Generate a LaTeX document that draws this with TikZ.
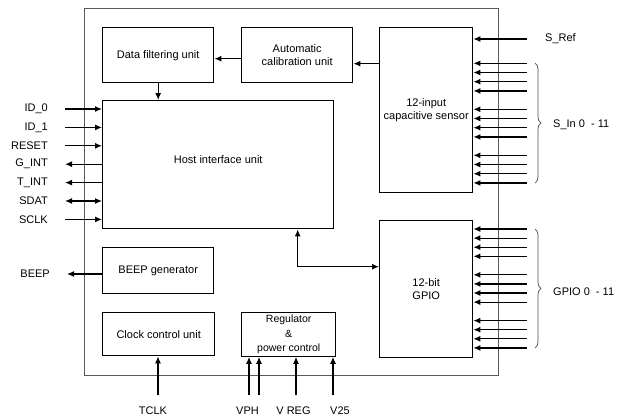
\documentclass[tikz,border=0pt]{standalone}
\usepackage{fontspec}
\setmainfont{Liberation Sans}
\usetikzlibrary{arrows.meta,decorations.pathreplacing}

\tikzset{
  block/.style={draw, line width=1.4pt, inner sep=0pt, align=center, anchor=north west},
  pinlbl/.style={inner sep=0pt},
  wire/.style={line width=1.2pt},
  curly/.style={decorate, decoration={brace, amplitude=6pt}, gray!60!black, line width=0.7pt}
}

\begin{document}
\begin{tikzpicture}[x=1pt, y=-1pt, >={Latex[length=7pt,width=6pt]},
  font=\fontsize{11}{12.5}\selectfont]

  \useasboundingbox (0,0) rectangle (629,416);

  % ------------------------------------------------------------
  % Positions
  % ------------------------------------------------------------

  \def\xlbl{48}
  \def\xpin{65}
  \def\xin{527}
  \def\xbrace{535}
  \def\ybot{395}
  \def\ylbl{414}

  % ------------------------------------------------------------
  % Chip outline
  % ------------------------------------------------------------

  \node[draw=gray!70!black, line width=0.8pt, inner sep=0pt, anchor=north west,
    minimum width=414pt, minimum height=367pt] (chip) at (84,8) {};

  % ------------------------------------------------------------
  % Blocks
  % ------------------------------------------------------------

  \node[block, minimum width=111pt, minimum height=55pt] (dfu) at (102,27)
  {Data filtering unit};

  \node[block, minimum width=111pt, minimum height=55pt] (acu) at (241,27)
  {Automatic\\calibration unit};

  \node[block, minimum width=93pt, minimum height=165pt] (cap) at (379,27)
  {12-input\\capacitive sensor};

  \node[block, minimum width=231pt, minimum height=128pt] (hiu) at (102,100)
  {\raisebox{10pt}{Host interface unit}};

  \node[block, minimum width=111pt, minimum height=46pt] (beep) at (102,247)
  {BEEP generator};

  \node[block, minimum width=112pt, minimum height=43pt] (ccu) at (102,312)
  {Clock control unit};

  \node[block, minimum width=94pt, minimum height=43pt,
    font=\fontsize{10.5}{14.5}\selectfont] (reg) at (241,312)
  {\raisebox{-2.5pt}{\begin{tabular}{@{}c@{}}Regulator\\\&\\power control\end{tabular}}};

  \node[block, minimum width=93pt, minimum height=137pt] (gpio) at (379,220)
  {12-bit\\GPIO};

  % ------------------------------------------------------------
  % Internal connections
  % ------------------------------------------------------------

  \draw[wire, ->] ([yshift=-3.5pt]acu.west) -- ([yshift=-3.5pt]acu.west -| dfu.east);
  \draw[wire, <-] ([yshift=-8.5pt]acu.east) -- ([yshift=-8.5pt]acu.east -| cap.west);
  \draw[wire, ->] (dfu.south) -- (dfu.south |- hiu.north);
  \draw[wire, <->] ([xshift=79.5pt]hiu.south) |- ([yshift=22.5pt]gpio.west);

  % ------------------------------------------------------------
  % Host pins (left)
  % ------------------------------------------------------------

  \foreach \lbl/\dir [count=\i from 0] in
    {ID\_0/->, ID\_1/->, RESET/->, G\_INT/<-, T\_INT/<-, SDAT/<->, SCLK/->}{
    \coordinate (pin\i) at (\xpin, 109+18.4*\i);
    \node[pinlbl, anchor=east] (lbl\i) at (\xlbl, 109+18.4*\i) {\lbl};
    \draw[wire, \dir] (pin\i) -- (pin\i -| hiu.west);
  }

  \coordinate (beepout) at (67,274);
  \draw[wire, ->] (beepout -| beep.west) -- (beepout);
  \node[pinlbl, anchor=east] (lblbeep) at (50,274) {BEEP};

  % ------------------------------------------------------------
  % Bottom pins
  % ------------------------------------------------------------

  \coordinate (tclk) at (158,\ybot);
  \coordinate (vpha) at (249,\ybot);
  \coordinate (vphb) at (259,\ybot);
  \coordinate (vreg) at (296,\ybot);
  \coordinate (vtf)  at (333,\ybot);

  \draw[wire, ->] (tclk) -- (tclk |- ccu.south);
  \draw[wire, ->] (vpha) -- (vpha |- reg.south);
  \draw[wire, ->] (vphb) -- (vphb |- reg.south);
  \draw[wire, ->] (vreg) -- (vreg |- reg.south);
  \draw[wire, ->] (vtf)  -- (vtf |- reg.south);

  \node[pinlbl, anchor=base] (ltclk) at (153,\ylbl) {TCLK};
  \node[pinlbl, anchor=base] (lvph)  at (247.5,\ylbl) {VPH};
  \node[pinlbl, anchor=base] (lvreg) at (293.5,\ylbl) {V REG};
  \node[pinlbl, anchor=base] (lvtf)  at (340,\ylbl) {V25};

  % ------------------------------------------------------------
  % Sensor and GPIO pins (right)
  % ------------------------------------------------------------

  \coordinate (sref) at (\xin,39);
  \draw[wire, ->] (sref) -- (sref -| cap.east);
  \node[pinlbl, anchor=west] (lsref) at (545,39) {S\_Ref};

  \foreach \g in {0,1,2}
    \foreach \k in {0,...,3}{
      \coordinate (sin\g\k) at (\xin, 63.3+46*\g+9.2*\k);
      \draw[wire, ->] (sin\g\k) -- (sin\g\k -| cap.east);
      \coordinate (gp\g\k) at (\xin, 229+45.8*\g+9.1*\k);
      \draw[wire, ->] (gp\g\k) -- (gp\g\k -| gpio.east);
    }

  \draw[curly] (\xbrace,63) -- (\xbrace,183);
  \draw[curly] (\xbrace,229) -- (\xbrace,348);

  \node[pinlbl, anchor=west] (lsin) at (553,125) {S\_In 0\ \ - 11};
  \node[pinlbl, anchor=west] (lgpio) at (553,292) {GPIO 0\ \ - 11};
\end{tikzpicture}
\end{document}
